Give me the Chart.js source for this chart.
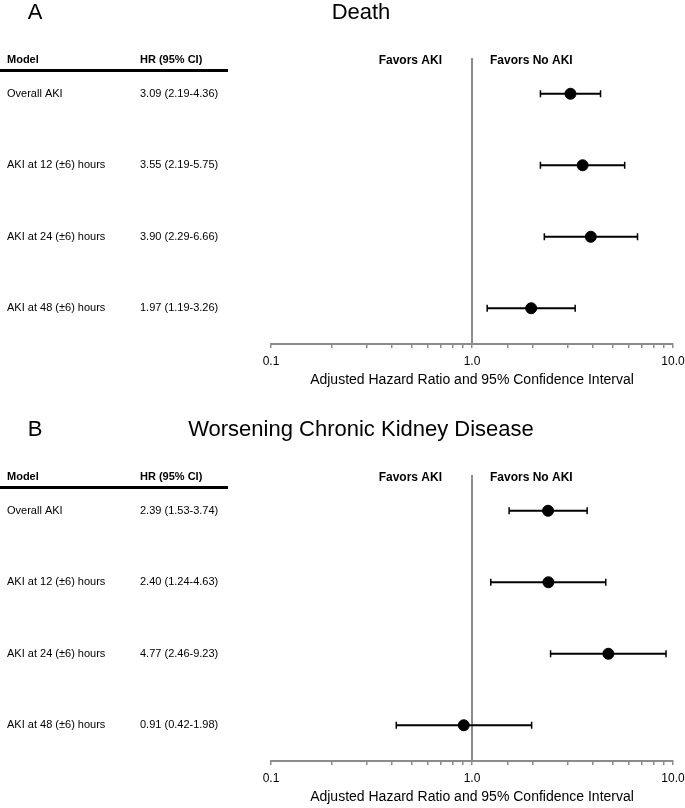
<!DOCTYPE html>
<html lang="en">
<head>
    <meta charset="UTF-8">
    <title>Forest plots</title>
    <script src="https://cdn.jsdelivr.net/npm/chart.js"></script>
    <style>
        body {
            margin: 0;
            padding: 0;
            background-color: #ffffff;
            font-family: "Liberation Sans", Arial, sans-serif;
        }
        .panel {
            position: absolute;
            left: 0;
            width: 685px;
            height: 391px;
        }
        #panelA { top: 0; }
        #panelB { top: 417px; }
    </style>
</head>
<body>
    <div class="panel" id="panelA"><canvas id="chartA" width="685" height="391"></canvas></div>
    <div class="panel" id="panelB"><canvas id="chartB" width="685" height="391"></canvas></div>

    <script>
        const models = ['Overall AKI', 'AKI at 12 (\u00b16) hours', 'AKI at 24 (\u00b16) hours', 'AKI at 48 (\u00b16) hours'];

        // Panel A - death
        const deathHR = [3.09, 3.55, 3.90, 1.97];
        const deathLow = [2.19, 2.19, 2.29, 1.19];
        const deathHigh = [4.36, 5.75, 6.66, 3.26];

        // Panel B - worsening CKD
        const ckdHR = [2.39, 2.40, 4.77, 0.91];
        const ckdLow = [1.53, 1.24, 2.46, 0.42];
        const ckdHigh = [3.74, 4.63, 9.23, 1.98];

        const xTickLabels = ['0.1', '1.0', '10.0'];
        const FONT = '"Liberation Sans", Arial, sans-serif';
        const GREY = '#8c8c8c';

        // draws the table on the left, the null line and the error bars
        const forestPlugin = {
            id: 'forest',
            beforeDatasetsDraw(chart, args, opts) {
                const ctx = chart.ctx;
                const x = chart.scales.x, y = chart.scales.y;
                const area = chart.chartArea;
                ctx.save();

                // line at HR = 1
                const x1 = x.getPixelForValue(1);
                ctx.strokeStyle = GREY;
                ctx.lineWidth = 2;
                ctx.beginPath();
                ctx.moveTo(x1, area.top);
                ctx.lineTo(x1, area.bottom);
                ctx.stroke();

                // confidence intervals
                ctx.strokeStyle = '#000';
                opts.hr.forEach((v, i) => {
                    const py = y.getPixelForValue(i);
                    const a = x.getPixelForValue(opts.low[i]);
                    const b = x.getPixelForValue(opts.high[i]);
                    ctx.lineWidth = 2;
                    ctx.beginPath();
                    ctx.moveTo(a, py); ctx.lineTo(b, py);
                    ctx.stroke();
                    ctx.lineWidth = 1.5;
                    ctx.beginPath();
                    ctx.moveTo(a, py - 3.5); ctx.lineTo(a, py + 3.5);
                    ctx.moveTo(b, py - 3.5); ctx.lineTo(b, py + 3.5);
                    ctx.stroke();
                });

                // panel letter and title
                ctx.fillStyle = '#000';
                ctx.textBaseline = 'middle';
                ctx.textAlign = 'center';
                ctx.font = '22px ' + FONT;
                ctx.fillText(opts.letter, 35, 13);
                ctx.fillText(opts.title, 361, 13);

                // favors labels
                ctx.font = 'bold 12px ' + FONT;
                ctx.textAlign = 'right';
                ctx.fillText('Favors AKI', 442, 61);
                ctx.textAlign = 'left';
                ctx.fillText('Favors No AKI', 490, 61);

                // table
                ctx.font = 'bold 11px ' + FONT;
                ctx.fillText('Model', 7, 60);
                ctx.fillText('HR (95% CI)', 140, 60);
                ctx.lineWidth = 3;
                ctx.beginPath();
                ctx.moveTo(0, 70.5);
                ctx.lineTo(228, 70.5);
                ctx.stroke();

                ctx.font = '11px ' + FONT;
                models.forEach((m, i) => {
                    const py = y.getPixelForValue(i);
                    ctx.fillText(m, 7, py);
                    ctx.fillText(opts.hr[i].toFixed(2) + ' (' + opts.low[i].toFixed(2) + '-' + opts.high[i].toFixed(2) + ')', 140, py);
                });
                ctx.restore();
            }
        };

        function makeForest(canvasId, letter, title, hr, low, high) {
            const points = hr.map((v, i) => ({ x: v, y: i }));
            return new Chart(document.getElementById(canvasId), {
                type: 'scatter',
                data: {
                    datasets: [{
                        data: points,
                        backgroundColor: '#000',
                        borderColor: '#000',
                        pointRadius: 5.5,
                        pointHoverRadius: 5.5
                    }]
                },
                plugins: [forestPlugin],
                options: {
                    responsive: false,
                    animation: false,
                    layout: { padding: { left: 271, right: 12, top: 58, bottom: 0 } },
                    plugins: {
                        legend: { display: false },
                        tooltip: { enabled: false },
                        forest: { letter: letter, title: title, hr: hr, low: low, high: high }
                    },
                    scales: {
                        x: {
                            type: 'logarithmic',
                            min: 0.1,
                            max: 10,
                            afterFit(scale) {
                                scale.height = 47;
                                scale.paddingLeft = 0;
                                scale.paddingRight = 0;
                            },
                            border: { display: true, color: GREY, width: 2 },
                            grid: { drawOnChartArea: false, drawTicks: true, tickLength: 4, color: GREY, lineWidth: 1.5 },
                            ticks: {
                                autoSkip: false,
                                maxRotation: 0,
                                padding: 6,
                                color: '#000',
                                font: { family: FONT, size: 12 },
                                callback(v) {
                                    const l = Math.log10(v);
                                    if (Math.abs(l - Math.round(l)) > 1e-9) return '';
                                    return xTickLabels[Math.round(l) + 1];
                                }
                            },
                            title: {
                                display: true,
                                text: 'Adjusted Hazard Ratio and 95% Confidence Interval',
                                color: '#000',
                                font: { family: FONT, size: 14 },
                                padding: { top: 2, bottom: 2 }
                            }
                        },
                        y: {
                            display: false,
                            reverse: true,
                            min: -0.5,
                            max: 3.5
                        }
                    }
                }
            });
        }

        makeForest('chartA', 'A', 'Death', deathHR, deathLow, deathHigh);
        makeForest('chartB', 'B', 'Worsening Chronic Kidney Disease', ckdHR, ckdLow, ckdHigh);
    </script>
</body>
</html>
